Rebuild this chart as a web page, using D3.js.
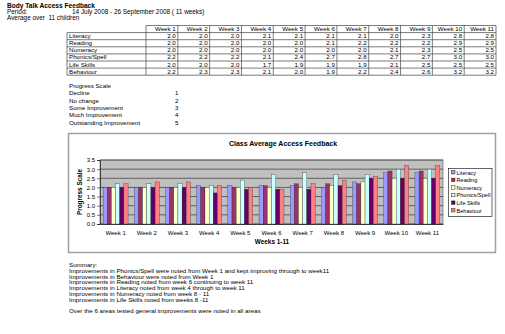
<!DOCTYPE html>
<html>
<head>
<meta charset="utf-8">
<script src="https://cdnjs.cloudflare.com/ajax/libs/d3/7.8.5/d3.min.js"></script>
<style>
  html, body { margin: 0; padding: 0; background: #fff; }
  svg { display: block; font-family: "Liberation Sans", Arial, sans-serif; }
  text { fill: #000; }
</style>
</head>
<body>
<svg id="sheet" width="505" height="334"></svg>
<script>
var weeks = ["Week 1", "Week 2", "Week 3", "Week 4", "Week 5", "Week 6", "Week 7", "Week 8", "Week 9", "Week 10", "Week 11"];
var subjects = ["Literacy", "Reading", "Numeracy", "Phonics/Spell", "Life Skills", "Behaviour"];
var literacy = [2.0, 2.0, 2.0, 2.1, 2.1, 2.1, 2.1, 2.0, 2.3, 2.8, 2.8];
var reading = [2.0, 2.0, 2.0, 2.0, 2.0, 2.1, 2.2, 2.2, 2.2, 2.9, 2.9];
var numeracy = [2.0, 2.0, 2.0, 2.0, 2.0, 2.0, 2.0, 2.1, 2.3, 2.5, 2.5];
var phonics = [2.2, 2.2, 2.2, 2.1, 2.4, 2.7, 2.8, 2.7, 2.7, 3.0, 3.0];
var lifeSkills = [2.0, 2.0, 2.0, 1.7, 1.9, 1.9, 1.9, 2.1, 2.5, 2.5, 2.5];
var behaviour = [2.2, 2.3, 2.3, 2.1, 2.0, 1.9, 2.2, 2.4, 2.6, 3.2, 3.2];
var yTicks = [0, 0.5, 1.0, 1.5, 2.0, 2.5, 3.0, 3.5];

var scaleLabels = ["Decline", "No change", "Some Improvement", "Much Improvement", "Outstanding Improvement"];
var scaleValues = [1, 2, 3, 4, 5];

var summaryLines = [
  "Summary:",
  "Improvements in Phonics/Spell were noted from Week 1 and kept improving through to week11",
  "Improvements in Behaviour were noted from Week 1",
  "Improvements in Reading noted from week 6 continuing to week 11",
  "Improvements in Literacy noted from week 4 through to week 11",
  "Improvements in Numeracy noted from week 8 - 11",
  "Improvements in Life Skills noted from weeks 8 -11",
  "",
  "Over the 6 areas tested general improvements were noted in all areas"
];

var series = [literacy, reading, numeracy, phonics, lifeSkills, behaviour];
var colors = ["#9999ff", "#993366", "#ffffcc", "#ccffff", "#660066", "#ff8080"];

var svg = d3.select("#sheet");
svg.append("rect").attr("width", 505).attr("height", 334).attr("fill", "#fff");

// header block
svg.append("text").attr("x", 7).attr("y", 8).attr("font-size", 6.6).attr("font-weight", "bold")
  .text("Body Talk Access Feedback");
svg.append("text").attr("x", 7).attr("y", 14).attr("font-size", 6.4).text("Period:");
svg.append("text").attr("x", 72).attr("y", 14).attr("font-size", 6.4)
  .text("14 July 2008 - 26 September 2008 ( 11 weeks)");
svg.append("text").attr("x", 7).attr("y", 20).attr("font-size", 6.4).attr("xml:space", "preserve")
  .text("Average over  11 children");

// table
var tableLeft = 67, labelRight = 146, tableRight = 496, tableTop = 25.5, rowH = 7.1;
var colX = d3.scaleBand().domain(weeks).range([labelRight, tableRight]);
var rowY = d3.scaleBand().domain(["head"].concat(subjects)).range([tableTop, tableTop + rowH * 7]);
var table = svg.append("g").attr("font-size", 6.2);

table.selectAll(".hcell").data(weeks).enter().append("text")
  .attr("x", function(d) { return colX(d) + colX.bandwidth() - 2; })
  .attr("y", rowY("head") + rowH - 1.6)
  .attr("text-anchor", "end")
  .text(function(d) { return d; });

subjects.forEach(function(s, si) {
  var y = rowY(s);
  table.append("text").attr("x", tableLeft + 2).attr("y", y + rowH - 1.6).text(s);
  table.selectAll(".c" + si).data(series[si]).enter().append("text")
    .attr("x", function(d, i) { return colX(weeks[i]) + colX.bandwidth() - 2; })
    .attr("y", y + rowH - 1.6)
    .attr("text-anchor", "end")
    .text(function(d) { return d3.format(".1f")(d); });
});

// grid lines of table
var lines = table.append("g").attr("stroke", "#444").attr("stroke-width", 0.7);
lines.append("line").attr("x1", labelRight).attr("x2", tableRight).attr("y1", tableTop).attr("y2", tableTop);
subjects.forEach(function(s) {
  lines.append("line").attr("x1", tableLeft).attr("x2", tableRight).attr("y1", rowY(s)).attr("y2", rowY(s));
});
lines.append("line").attr("x1", tableLeft).attr("x2", tableRight)
  .attr("y1", tableTop + rowH * 7).attr("y2", tableTop + rowH * 7);
lines.append("line").attr("x1", tableLeft).attr("x2", tableLeft)
  .attr("y1", rowY("Literacy")).attr("y2", tableTop + rowH * 7);
weeks.forEach(function(w) {
  lines.append("line").attr("x1", colX(w)).attr("x2", colX(w))
    .attr("y1", tableTop).attr("y2", tableTop + rowH * 7);
});
lines.append("line").attr("x1", tableRight).attr("x2", tableRight)
  .attr("y1", tableTop).attr("y2", tableTop + rowH * 7);

// progress scale
var ps = svg.append("g").attr("font-size", 6.2);
ps.append("text").attr("x", 69).attr("y", 88).text("Progress Scale");
ps.selectAll(".sl").data(scaleLabels).enter().append("text")
  .attr("x", 69).attr("y", function(d, i) { return 95.3 + i * 7.3; })
  .text(function(d) { return d; });
ps.selectAll(".sv").data(scaleValues).enter().append("text")
  .attr("x", 175).attr("y", function(d, i) { return 95.3 + i * 7.3; })
  .text(function(d) { return d; });

// chart
svg.append("rect").attr("x", 68.5).attr("y", 133.5).attr("width", 427).attr("height", 119)
  .attr("fill", "#fff").attr("stroke", "#a0a0a0").attr("stroke-width", 1.5);

svg.append("text").attr("x", 283).attr("y", 146).attr("text-anchor", "middle")
  .attr("font-size", 7).attr("font-weight", "bold").text("Class Average Access Feedback");

var x0 = d3.scaleBand().domain(weeks).range([100, 443]).paddingInner(0.2).paddingOuter(0.1);
var x1 = d3.scaleBand().domain(subjects).range([0, x0.bandwidth()]);
var y = d3.scaleLinear().domain([0, 3.5]).range([224, 160]);

svg.append("rect").attr("x", 100).attr("y", y(3.5)).attr("width", 343).attr("height", y(0) - y(3.5))
  .attr("fill", "#c0c0c0").attr("stroke", "#808080").attr("stroke-width", 0.8);

svg.append("g").selectAll("line").data(yTicks).enter().append("line")
  .attr("x1", 100).attr("x2", 443)
  .attr("y1", function(d) { return y(d); }).attr("y2", function(d) { return y(d); })
  .attr("stroke", "#000").attr("stroke-width", 0.5);

var bars = svg.append("g");
subjects.forEach(function(s, si) {
  bars.selectAll(".b" + si).data(series[si]).enter().append("rect")
    .attr("x", function(d, i) { return x0(weeks[i]) + x1(s); })
    .attr("y", function(d) { return y(d); })
    .attr("width", x1.bandwidth())
    .attr("height", function(d) { return y(0) - y(d); })
    .attr("fill", colors[si])
    .attr("stroke", "#222").attr("stroke-width", 0.3);
});

var yAxis = svg.append("g").attr("transform", "translate(100,0)")
  .call(d3.axisLeft(y).tickValues(yTicks).tickFormat(d3.format(".1f")).tickSize(3));
yAxis.select(".domain").attr("stroke", "#000").attr("stroke-width", 0.6);
yAxis.selectAll("line").attr("stroke", "#000").attr("stroke-width", 0.5);
yAxis.selectAll("text").attr("font-size", 6).attr("font-family", "Liberation Sans, Arial, sans-serif").attr("x", -5);

var xAxis = svg.append("g").attr("transform", "translate(0," + y(0) + ")")
  .call(d3.axisBottom(x0).tickSize(0).tickPadding(7));
xAxis.select(".domain").attr("stroke", "#000").attr("stroke-width", 0.6);
xAxis.selectAll("text").attr("font-size", 6).attr("font-family", "Liberation Sans, Arial, sans-serif");

svg.append("text").attr("transform", "translate(82,192) rotate(-90)").attr("text-anchor", "middle")
  .attr("font-size", 6.4).attr("font-weight", "bold").text("Progress Scale");
svg.append("text").attr("x", 272).attr("y", 244).attr("text-anchor", "middle")
  .attr("font-size", 6.4).attr("font-weight", "bold").text("Weeks 1-11");

// legend
var legend = svg.append("g");
legend.append("rect").attr("x", 448.5).attr("y", 168.5).attr("width", 43.5).attr("height", 48)
  .attr("fill", "#fff").attr("stroke", "#000").attr("stroke-width", 0.6);
var li = legend.selectAll(".li").data(subjects).enter().append("g")
  .attr("transform", function(d, i) { return "translate(451," + (173 + i * 7.6) + ")"; });
li.append("rect").attr("x", 0.5).attr("y", -2.5).attr("width", 3.5).attr("height", 3.5)
  .attr("fill", function(d, i) { return colors[i]; }).attr("stroke", "#000").attr("stroke-width", 0.4);
li.append("text").attr("x", 5.5).attr("y", 1.6).attr("font-size", 5.6).text(function(d) { return d; });

// summary
svg.append("g").attr("font-size", 6.2).selectAll("text").data(summaryLines).enter().append("text")
  .attr("x", 69).attr("y", function(d, i) { return 267 + i * 5.8; })
  .text(function(d) { return d; });
</script>
</body>
</html>
